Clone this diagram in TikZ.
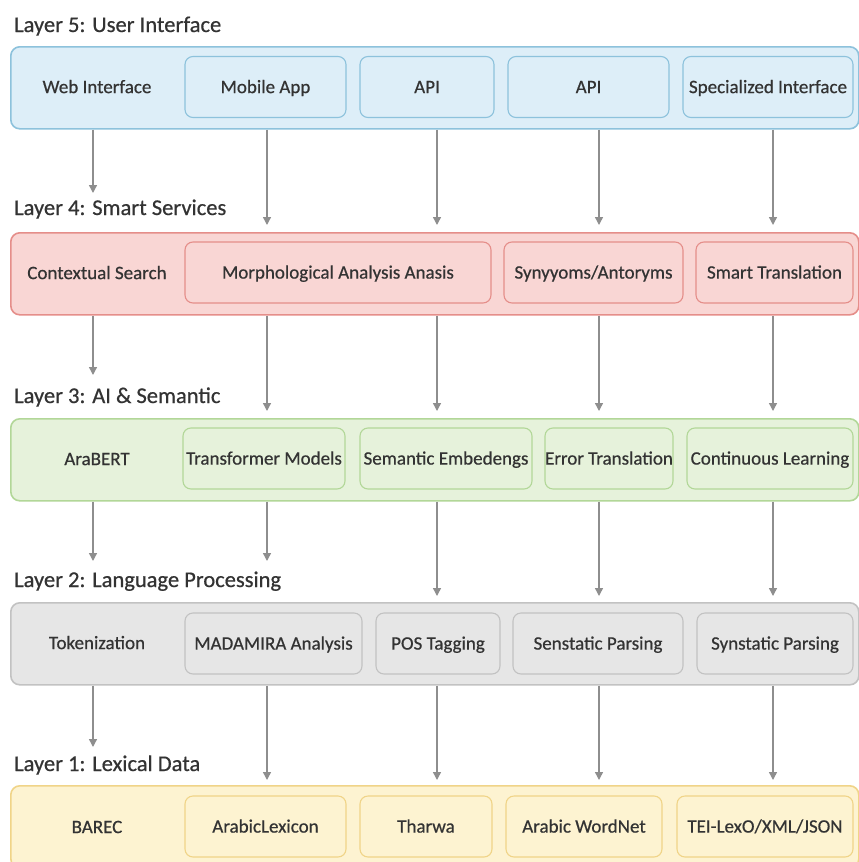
\documentclass[tikz,border=0pt]{standalone}
\usepackage{fontspec}
\setmainfont{Carlito}[FakeBold=0.6]
\usetikzlibrary{arrows.meta}

\definecolor{ink}{HTML}{333333}
\definecolor{arrowgray}{HTML}{8E8E8E}
\definecolor{blueFill}{HTML}{DDEEF8}
\definecolor{blueLine}{HTML}{8DC2DC}
\definecolor{redFill}{HTML}{F9D6D4}
\definecolor{redLine}{HTML}{E58E8A}
\definecolor{greenFill}{HTML}{E6F2DB}
\definecolor{greenLine}{HTML}{B2D798}
\definecolor{grayFill}{HTML}{E6E6E6}
\definecolor{grayLine}{HTML}{C2C2C2}
\definecolor{yellowFill}{HTML}{FDF3D1}
\definecolor{yellowLine}{HTML}{F0D488}

\tikzset{
  layertitle/.style={anchor=base west, inner sep=0pt, text=ink, font=\fontsize{22.5}{26}\selectfont},
  band/.style={draw=#1Line, fill=#1Fill, line width=1.6pt, rounded corners=9pt,
    anchor=north west, minimum width=848pt, minimum height=82pt, inner sep=0pt},
  boxtext/.style={inner sep=0pt, text=ink, text height=12.2pt, text depth=0pt,
    font=\fontsize{19}{22}\selectfont},
  ibox/.style={boxtext, draw=#1Line, fill=#1Fill, line width=1.1pt, rounded corners=8pt,
    minimum height=61pt},
  plain/.style={boxtext},
  flow/.style={draw=arrowgray, line width=1.4pt,
    -{Triangle[length=8pt, width=8pt]}, shorten >=1pt},
}

\begin{document}
\begin{tikzpicture}[x=1pt, y=-1pt]
\useasboundingbox[fill=white] (0,0) rectangle (859,862);

% arrow columns
\coordinate (c1) at (93,0);
\coordinate (c2) at (267,0);
\coordinate (c3) at (437,0);
\coordinate (c4) at (599,0);
\coordinate (c5) at (773,0);

% ---------- Layer 5 ----------
\node[layertitle] (t5) at (14,32) {Layer 5: User Interface};
\node[band=blue] (L5) at (10,46) {};
\node[plain] (web) at (97,87) {Web Interface};
\node[ibox=blue, minimum width=161pt] (mob) at (265.5,87) {Mobile App};
\node[ibox=blue, minimum width=134pt] (api1) at (427,87) {API};
\node[ibox=blue, minimum width=161pt] (api2) at (588.5,87) {API};
\node[ibox=blue, minimum width=170pt] (spec) at (768,87) {Specialized Interface};

% ---------- Layer 4 ----------
\node[layertitle] (t4) at (14,215) {Layer 4: Smart Services};
\node[band=red] (L4) at (10,232) {};
\node[plain] (ctx) at (97,273) {Contextual Search};
\node[ibox=red, minimum width=306pt] (morph) at (338,272.5) {Morphological Analysis Anasis};
\node[ibox=red, minimum width=179pt] (syn) at (593.5,272.5) {Synyyoms/Antoryms};
\node[ibox=red, minimum width=157pt] (smt) at (774.5,272.5) {Smart Translation};

% ---------- Layer 3 ----------
\node[layertitle] (t3) at (14,403) {Layer 3: AI \& Semantic};
\node[band=green] (L3) at (10,418) {};
\node[plain] (bert) at (97,459) {AraBERT};
\node[ibox=green, minimum width=162pt] (trf) at (264,458.5) {Transformer Models};
\node[ibox=green, minimum width=172pt] (emb) at (446,458.5) {Semantic Embedengs};
\node[ibox=green, minimum width=128pt] (err) at (609,458.5) {Error Translation};
\node[ibox=green, minimum width=166pt] (cont) at (770,458.5) {Continuous Learning};

% ---------- Layer 2 ----------
\node[layertitle] (t2) at (14,587) {Layer 2: Language Processing};
\node[band=gray] (L2) at (10,602) {};
\node[plain] (tok) at (97,643) {Tokenization};
\node[ibox=gray, minimum width=177pt] (mada) at (273.5,643.5) {MADAMIRA Analysis};
\node[ibox=gray, minimum width=124pt] (pos) at (438,643.5) {POS Tagging};
\node[ibox=gray, minimum width=170pt] (sen) at (598,643.5) {Senstatic Parsing};
\node[ibox=gray, minimum width=156pt] (synp) at (775,643.5) {Synstatic Parsing};

% ---------- Layer 1 ----------
\node[layertitle] (t1) at (14,771) {Layer 1: Lexical Data};
\node[band=yellow] (L1) at (10,785) {};
\node[plain] (barec) at (97,827) {BAREC};
\node[ibox=yellow, minimum width=161pt] (alex) at (265.5,826.5) {ArabicLexicon};
\node[ibox=yellow, minimum width=132pt] (thar) at (426,826.5) {Tharwa};
\node[ibox=yellow, minimum width=156pt] (awn) at (584,826.5) {Arabic WordNet};
\node[ibox=yellow, minimum width=176pt] (tei) at (765,826.5) {TEI-LexO/XML/JSON};

% free ends of the left-hand arrows, just above the layer titles
\coordinate (e54) at (93,194);
\coordinate (e43) at (93,376);
\coordinate (e32a) at (93,562);
\coordinate (e32b) at (267,562);
\coordinate (e21) at (93,748);

% ---------- connectors ----------
\draw[flow] (L5.south -| c1) -- (e54);
\foreach \c in {c2,c3,c4,c5} \draw[flow] (L5.south -| \c) -- ([yshift=6pt]L4.north -| \c);

\draw[flow] (L4.south -| c1) -- (e43);
\foreach \c in {c2,c3,c4,c5} \draw[flow] (L4.south -| \c) -- ([yshift=6pt]L3.north -| \c);

\draw[flow] (L3.south -| c1) -- (e32a);
\draw[flow] (L3.south -| c2) -- (e32b);
\foreach \c in {c3,c4,c5} \draw[flow] (L3.south -| \c) -- ([yshift=5pt]L2.north -| \c);

\draw[flow] (L2.south -| c1) -- (e21);
\foreach \c in {c2,c3,c4,c5} \draw[flow] (L2.south -| \c) -- ([yshift=4pt]L1.north -| \c);
\end{tikzpicture}
\end{document}
